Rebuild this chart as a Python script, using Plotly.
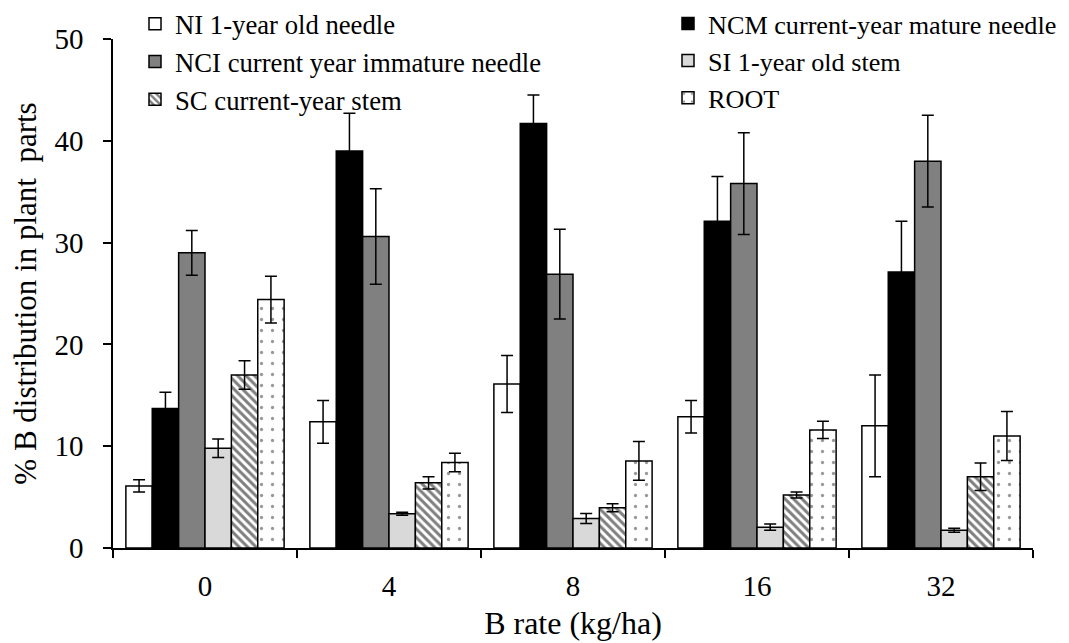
import plotly.graph_objects as go

categories = ["0", "4", "8", "16", "32"]

ni = [6.1, 12.4, 16.1, 12.9, 12.0]
ni_err = [0.6, 2.1, 2.8, 1.6, 5.0]
ncm = [13.7, 39.0, 41.7, 32.1, 27.1]
ncm_err = [1.6, 3.7, 2.8, 4.4, 5.0]
nci = [29.0, 30.6, 26.9, 35.8, 38.0]
nci_err = [2.2, 4.7, 4.4, 5.0, 4.5]
si = [9.8, 3.36, 2.9, 2.05, 1.75]
si_err = [0.9, 0.15, 0.5, 0.3, 0.2]
sc = [17.0, 6.4, 3.95, 5.2, 7.0]
sc_err = [1.4, 0.6, 0.4, 0.3, 1.35]
root = [24.4, 8.4, 8.55, 11.6, 11.0]
root_err = [2.3, 0.9, 1.9, 0.85, 2.4]

names = ["NI 1-year old needle", "NCM current-year mature needle",
         "NCI current year immature needle", "SI 1-year old stem",
         "SC current-year stem", "ROOT"]

FONT = "Liberation Serif, Times New Roman, serif"

series = [
    (names[0], ni, ni_err, dict(color="white"), "legend"),
    (names[1], ncm, ncm_err, dict(color="black"), "legend2"),
    (names[2], nci, nci_err, dict(color="#808080"), "legend"),
    (names[3], si, si_err, dict(color="#d9d9d9"), "legend2"),
    (names[4], sc, sc_err, dict(color="white",
                                pattern=dict(shape="\\", fgcolor="black", bgcolor="white",
                                             size=6, solidity=0.5)), "legend"),
    (names[5], root, root_err, dict(color="white",
                                    pattern=dict(shape=".", fgcolor="#333333", bgcolor="white",
                                                 size=11, solidity=0.07)), "legend2"),
]

fig = go.Figure()
for name, vals, errs, marker, leg in series:
    m = dict(marker)
    m["line"] = dict(color="black", width=1.5)
    fig.add_trace(go.Bar(
        x=categories, y=vals, name=name, marker=m, legend=leg,
        error_y=dict(type="data", array=errs, visible=True, color="black",
                     thickness=1.5, width=6),
    ))

W, H = 1069, 643
OFF = 8  # page body margin offset
PL, PR, PT, PB = 113 - OFF, 1033 - OFF, 39 - OFF, 548 - OFF
paper_w, paper_h = W - PL, PB


def px_x(px):
    return (px - OFF - PL) / paper_w


def px_y(py):
    return (PB - (py - OFF)) / paper_h


fig.update_layout(
    width=W, height=H,
    paper_bgcolor="white", plot_bgcolor="white",
    margin=dict(l=PL, r=0, t=0, b=H - PB, autoexpand=False),
    barmode="group", bargap=0.14, bargroupgap=0,
    font=dict(family=FONT, color="black", size=26),
    legend=dict(x=px_x(135), y=px_y(0), xanchor="left", yanchor="top",
                bgcolor="rgba(0,0,0,0)",
                font=dict(family=FONT, size=26.7, color="black"), tracegroupgap=0),
    legend2=dict(x=px_x(668), y=px_y(0), xanchor="left", yanchor="top",
                 bgcolor="rgba(0,0,0,0)",
                 font=dict(family=FONT, size=26.2, color="black"), tracegroupgap=0),
    xaxis=dict(
        domain=[0, (PR - PL) / paper_w],
        type="category", showline=True, linecolor="black", linewidth=1.5,
        ticks="outside", tickson="boundaries", ticklen=8, tickcolor="black", tickwidth=1.5,
        tickfont=dict(family=FONT, size=29, color="black"), ticklabelstandoff=11,
        showgrid=False, zeroline=False, automargin=False,
        title=dict(text="B rate (kg/ha)", font=dict(family=FONT, size=32, color="black"),
                   standoff=11),
    ),
    yaxis=dict(
        domain=[0, (PB - PT) / paper_h],
        range=[0, 50], tickvals=[0, 10, 20, 30, 40, 50], showline=True,
        linecolor="black", linewidth=1.5, ticks="outside", ticklen=8,
        tickcolor="black", tickwidth=1.5,
        tickfont=dict(family=FONT, size=29, color="black"), ticklabelstandoff=14,
        showgrid=False, zeroline=False, automargin=False,
        title=dict(text="% B distribution in plant  parts",
                   font=dict(family=FONT, size=31, color="black"), standoff=9),
    ),
)

fig.write_html("out.html")
